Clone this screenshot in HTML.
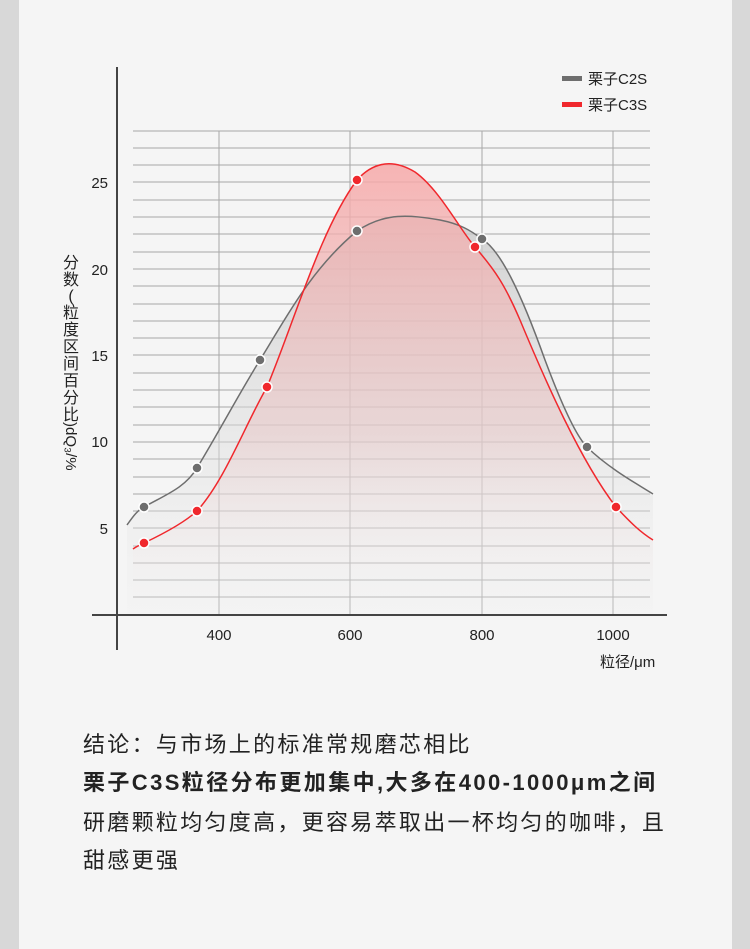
<!DOCTYPE html>
<html><head><meta charset="utf-8"><style>
html,body{margin:0;padding:0}
body{width:750px;height:949px;background:#d8d8d8;position:relative;overflow:hidden;font-family:"Liberation Sans","Noto Sans CJK SC",sans-serif}
#page{position:absolute;left:19px;top:0;width:713px;height:949px;background:#f5f5f5}
.t{position:absolute;left:83px;font-size:22px;letter-spacing:2.3px;color:#222;white-space:nowrap;line-height:1}
</style></head><body>
<div id="page"></div>
<svg width="750" height="949" style="position:absolute;left:0;top:0" font-family="Liberation Sans, Noto Sans CJK SC, sans-serif">
<defs>
<linearGradient id="gg" x1="0" y1="0" x2="0" y2="1"><stop offset="0" stop-color="#c8c8c8" stop-opacity=".8"/><stop offset="1" stop-color="#eee" stop-opacity=".2"/></linearGradient>
<linearGradient id="rg" x1="0" y1="0" x2="0" y2="1"><stop offset="0" stop-color="#f7a8a8" stop-opacity=".85"/><stop offset=".6" stop-color="#e8c4c4" stop-opacity=".5"/><stop offset="1" stop-color="#f5f5f5" stop-opacity="0"/></linearGradient>
</defs>
<g stroke="#a8a8a8" stroke-width="1">
<line x1="133" x2="650" y1="131" y2="131"/><line x1="133" x2="650" y1="148" y2="148"/><line x1="133" x2="650" y1="165" y2="165"/><line x1="133" x2="650" y1="182" y2="182"/><line x1="133" x2="650" y1="200" y2="200"/><line x1="133" x2="650" y1="217" y2="217"/><line x1="133" x2="650" y1="234" y2="234"/><line x1="133" x2="650" y1="252" y2="252"/><line x1="133" x2="650" y1="269" y2="269"/><line x1="133" x2="650" y1="286" y2="286"/><line x1="133" x2="650" y1="304" y2="304"/><line x1="133" x2="650" y1="321" y2="321"/><line x1="133" x2="650" y1="338" y2="338"/><line x1="133" x2="650" y1="355" y2="355"/><line x1="133" x2="650" y1="373" y2="373"/><line x1="133" x2="650" y1="390" y2="390"/><line x1="133" x2="650" y1="407" y2="407"/><line x1="133" x2="650" y1="425" y2="425"/><line x1="133" x2="650" y1="442" y2="442"/><line x1="133" x2="650" y1="459" y2="459"/><line x1="133" x2="650" y1="477" y2="477"/><line x1="133" x2="650" y1="494" y2="494"/><line x1="133" x2="650" y1="511" y2="511"/><line x1="133" x2="650" y1="528" y2="528"/><line x1="133" x2="650" y1="546" y2="546"/><line x1="133" x2="650" y1="563" y2="563"/><line x1="133" x2="650" y1="580" y2="580"/><line x1="133" x2="650" y1="597" y2="597"/>
<line x1="219" x2="219" y1="131" y2="615"/><line x1="350" x2="350" y1="131" y2="615"/><line x1="482" x2="482" y1="131" y2="615"/><line x1="613" x2="613" y1="131" y2="615"/>
</g>
<path d="M127,525 C134,515 138,510 144,507 C165,495 185,488 197,468 C220,430 240,392 260,360 C285,320 310,270 357,231 C385,212 410,215 440,220 C460,224 470,230 482,239 C500,250 520,290 545,360 C560,400 575,435 587,447 C605,465 630,480 653,494 L653,615 L127,615 Z" fill="url(#gg)"/>
<path d="M133,549 C137,546 140,545 144,543 C165,533 185,522 197,511 C225,480 245,425 267,387 C295,320 320,230 357,180 C375,160 395,160 415,172 C440,190 460,230 475,247 C495,270 505,285 520,320 C545,380 580,460 616,507 C630,522 640,532 653,540 L653,615 L133,615 Z" fill="url(#rg)"/>
<path d="M127,525 C134,515 138,510 144,507 C165,495 185,488 197,468 C220,430 240,392 260,360 C285,320 310,270 357,231 C385,212 410,215 440,220 C460,224 470,230 482,239 C500,250 520,290 545,360 C560,400 575,435 587,447 C605,465 630,480 653,494" fill="none" stroke="#6e6e6e" stroke-width="1.5"/>
<path d="M133,549 C137,546 140,545 144,543 C165,533 185,522 197,511 C225,480 245,425 267,387 C295,320 320,230 357,180 C375,160 395,160 415,172 C440,190 460,230 475,247 C495,270 505,285 520,320 C545,380 580,460 616,507 C630,522 640,532 653,540" fill="none" stroke="#f0282d" stroke-width="1.5"/>
<g stroke="#fff" stroke-width="1.5" fill="#6e6e6e">
<circle cx="144" cy="507" r="5"/><circle cx="197" cy="468" r="5"/><circle cx="260" cy="360" r="5"/><circle cx="357" cy="231" r="5"/><circle cx="482" cy="239" r="5"/><circle cx="587" cy="447" r="5"/>
</g>
<g stroke="#fff" stroke-width="1.5" fill="#f0282d">
<circle cx="144" cy="543" r="5"/><circle cx="197" cy="511" r="5"/><circle cx="267" cy="387" r="5"/><circle cx="357" cy="180" r="5"/><circle cx="475" cy="247" r="5"/><circle cx="616" cy="507" r="5"/>
</g>
<line x1="117" y1="67" x2="117" y2="650" stroke="#444" stroke-width="2"/>
<line x1="92" y1="615" x2="667" y2="615" stroke="#444" stroke-width="2"/>
<g font-size="15" fill="#222" text-anchor="end">
<text x="108" y="188">25</text><text x="108" y="275">20</text><text x="108" y="361">15</text><text x="108" y="447">10</text><text x="108" y="534">5</text>
</g>
<g font-size="15" fill="#222" text-anchor="middle">
<text x="219" y="640">400</text><text x="350" y="640">600</text><text x="482" y="640">800</text><text x="613" y="640">1000</text>
</g>
<text x="600" y="667" font-size="15" fill="#222">粒径/μm</text>
<rect x="562" y="76" width="20" height="5" fill="#6e6e6e"/>
<text x="588" y="84" font-size="15" fill="#222">栗子C2S</text>
<rect x="562" y="102" width="20" height="5" fill="#f0282d"/>
<text x="588" y="110" font-size="15" fill="#222">栗子C3S</text>
<g font-size="16" fill="#222" text-anchor="middle">
<text x="71" y="268">分</text><text x="71" y="285">数</text><text x="71" y="301">(</text><text x="71" y="318">粒</text><text x="71" y="335">度</text><text x="71" y="352">区</text><text x="71" y="369">间</text><text x="71" y="386">百</text><text x="71" y="403">分</text><text x="71" y="420">比</text>
</g>
<text transform="translate(66,422) rotate(90)" font-size="15" fill="#222">)dQ₃/%</text>
</svg>
<div class="t" style="top:734px">结论：与市场上的标准常规磨芯相比</div>
<div class="t" style="top:772px;font-weight:bold;letter-spacing:2.4px">栗子C3S粒径分布更加集中,大多在400-1000μm之间</div>
<div class="t" style="top:812px">研磨颗粒均匀度高，更容易萃取出一杯均匀的咖啡，且</div>
<div class="t" style="top:850px">甜感更强</div>
</body></html>
